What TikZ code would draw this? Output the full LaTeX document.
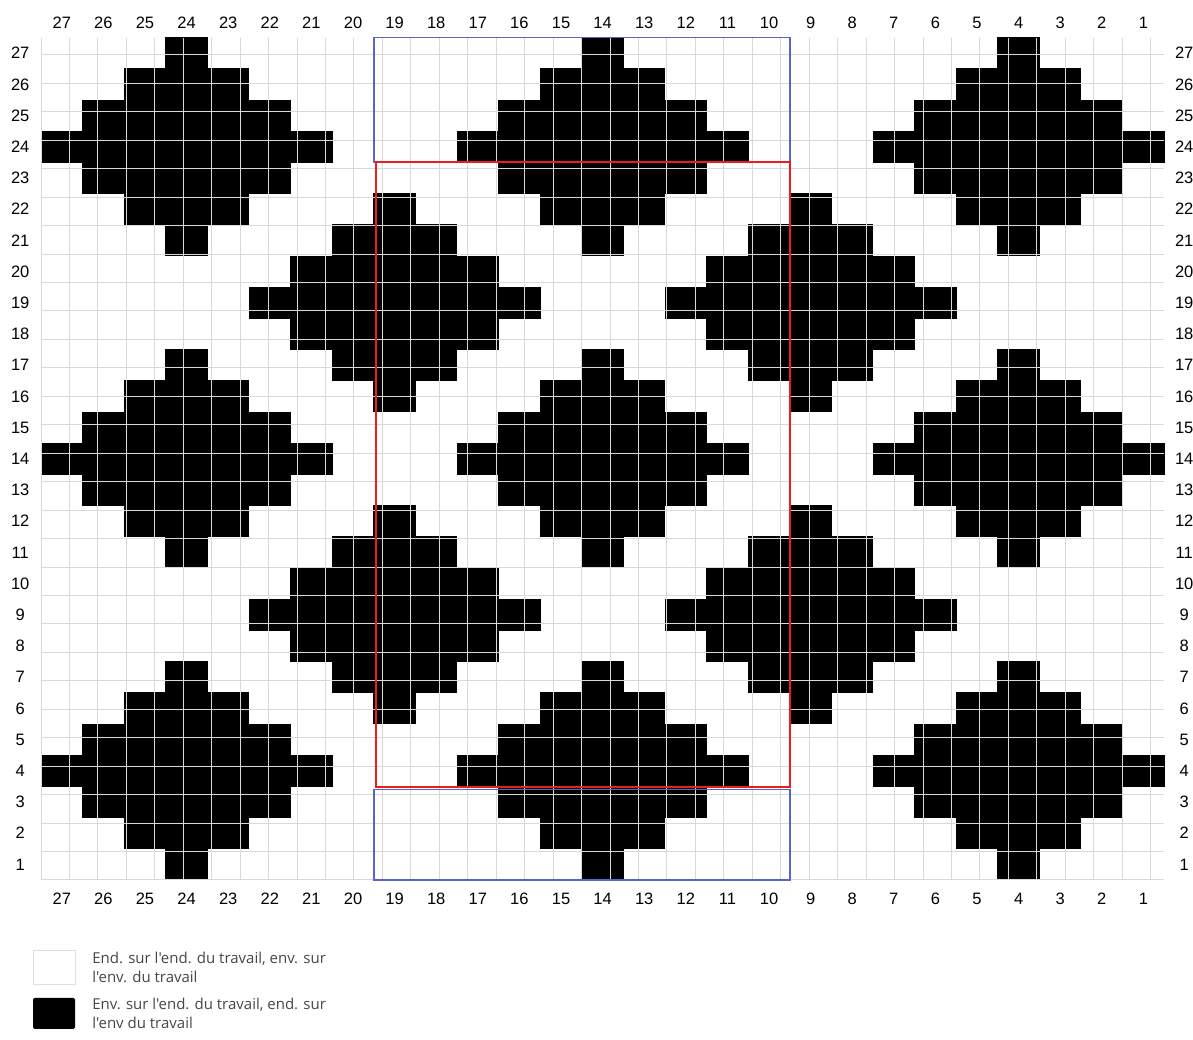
\documentclass[tikz,border=0pt]{standalone}
\usepackage{fontspec}
\setmainfont{Liberation Sans}
\newfontfamily\legendfont{Open Sans}
\usetikzlibrary{positioning}
\definecolor{frameblue}{RGB}{90,100,200}
\definecolor{framered}{RGB}{235,30,30}
\definecolor{legendgray}{RGB}{70,70,70}

\begin{document}
\begin{tikzpicture}[x=41.6pt,y=31.2pt,
  numlabel/.style={font=\fontsize{16.5}{18}\selectfont, inner sep=0pt},
  keybox/.style={minimum width=42pt, inner sep=0pt},
  keytext/.style={font=\legendfont\fontsize{15}{19}\selectfont, text=legendgray,
    align=left, inner sep=0pt}]
\useasboundingbox (-41pt,-160pt) rectangle (1152pt,880pt);
% black stitches: diamonds of radius 3
\foreach \cc/\rc in {24/24,14/24,4/24,24/14,14/14,4/14,24/4,14/4,4/4,19/19,9/19,19/9,9/9}
  \foreach \dx in {-3,...,3}
    \foreach \dy in {-3,...,3}{
      \pgfmathtruncatemacro{\dist}{abs(\dx)+abs(\dy)}
      \ifnum\dist<4
        \fill[black] ({27-\cc-\dx-0.01},{\rc+\dy-1.01}) rectangle +(1.02,1.02);
      \fi
    }
% grid
\draw[gray!30, line width=1pt] (0,0) grid (27,27);
% repeat frames
\draw[frameblue, line width=1.6pt] (8,23) rectangle (18,27);
\draw[frameblue, line width=1.6pt] (8,0) rectangle (18,2.9);
\draw[framered, line width=1.8pt] (8.06,2.97) rectangle (18,23);
% column numbers
\foreach \c in {1,...,27}{
  \node[numlabel] (ctop\c) at ({27.5-\c},27.47) {\c};
  \node[numlabel] (cbot\c) at ({27.5-\c},-0.61) {\c};
}
% row numbers
\foreach \r in {1,...,27}{
  \node[numlabel] (rleft\r) at (-0.5,{\r-0.5}) {\r};
  \node[numlabel] (rright\r) at (27.48,{\r-0.5}) {\r};
}
% legend
\node[keybox, draw=gray!25, fill=white, minimum height=34pt] (keywhite) at (13pt,-87.5pt) {};
\node[keytext, right=17pt of keywhite] (keywhitetxt) {End. sur l'end. du travail, env. sur\\l'env. du travail};
\node[keybox, fill=black, rounded corners=1.5pt, minimum height=31pt] (keyblack) at (13pt,-133.5pt) {};
\node[keytext, right=17pt of keyblack] (keyblacktxt) {Env. sur l'end. du travail, end. sur\\l'env du travail};
\end{tikzpicture}
\end{document}
